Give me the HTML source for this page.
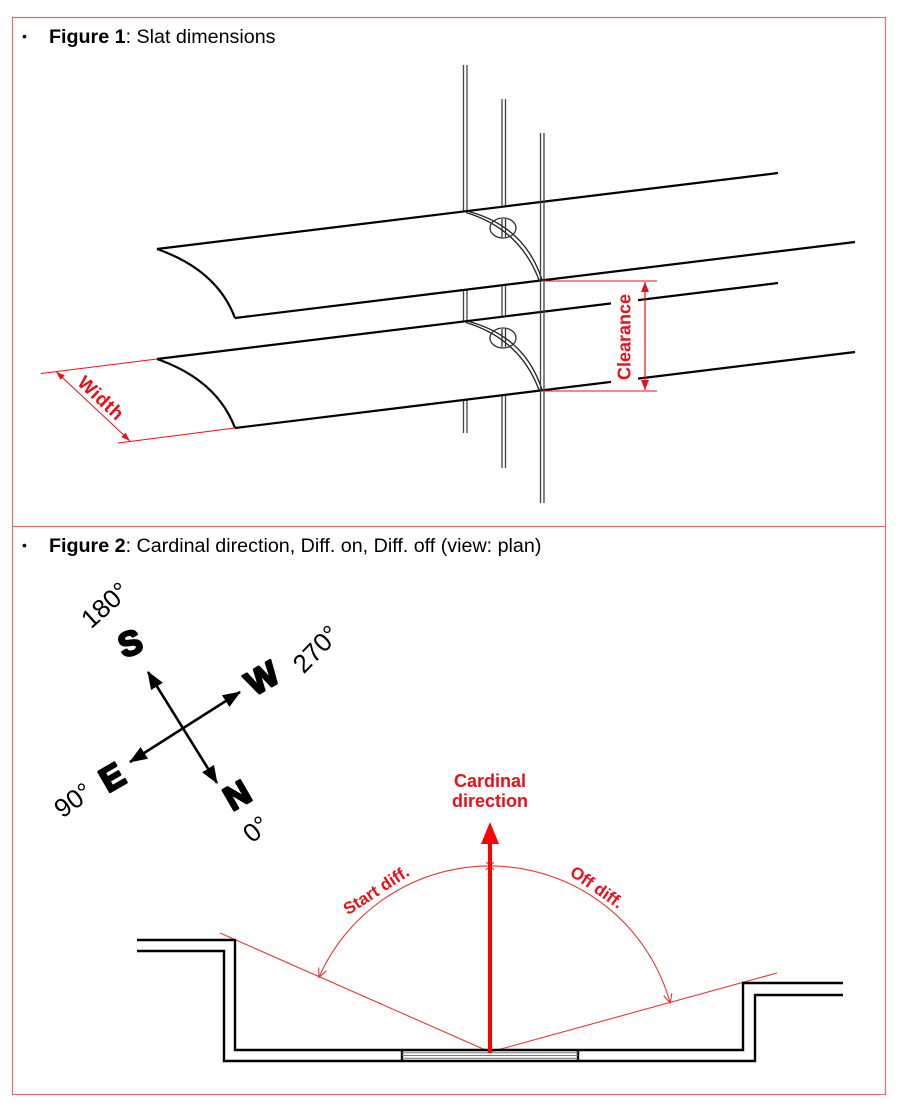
<!DOCTYPE html>
<html>
<head>
<meta charset="utf-8">
<style>
html,body{margin:0;padding:0;background:#fff;}
svg{display:block;}
</style>
</head>
<body>
<svg width="901" height="1114" viewBox="0 0 901 1114" xmlns="http://www.w3.org/2000/svg" font-family="'Liberation Sans', Arial, sans-serif">
<defs>
  <marker id="ah" markerWidth="18" markerHeight="14" refX="17" refY="7" orient="auto-start-reverse" markerUnits="userSpaceOnUse">
    <path d="M0,0 L18,7 L0,14 Z" fill="#000"/>
  </marker>
  <marker id="rw" markerWidth="9" markerHeight="6" refX="9" refY="3" orient="auto-start-reverse" markerUnits="userSpaceOnUse">
    <path d="M0,0 L9,3 L0,6 Z" fill="#e8101a"/>
  </marker>
  <marker id="rc" markerWidth="10" markerHeight="8" refX="10" refY="4" orient="auto-start-reverse" markerUnits="userSpaceOnUse">
    <path d="M0,0 L10,4 L0,8 Z" fill="#e8101a"/>
  </marker>
</defs>

<!-- frame -->
<rect x="12.5" y="17.5" width="873" height="1077" fill="#fff" stroke="#dc7070" stroke-width="1.2"/>
<line x1="12" y1="526.5" x2="886" y2="526.5" stroke="#dc7070" stroke-width="1.2"/>

<!-- headings -->
<text x="22" y="41" font-size="14">•</text>
<text x="49" y="43" font-size="19.7"><tspan font-weight="bold">Figure 1</tspan>: Slat dimensions</text>
<text x="22" y="550" font-size="14">•</text>
<text x="49" y="552" font-size="19.7"><tspan font-weight="bold">Figure 2</tspan>: Cardinal direction, Diff. on, Diff. off (view: plan)</text>

<!-- ===== Figure 1 ===== -->
<g stroke="#444" stroke-width="1.3">
  <line x1="463.5" y1="65" x2="463.5" y2="433"/>
  <line x1="467" y1="65" x2="467" y2="433"/>
  <line x1="502" y1="99" x2="502" y2="468"/>
  <line x1="505.5" y1="99" x2="505.5" y2="468"/>
</g>

<!-- slat 1 -->
<path d="M157,249 L778,173 L855,242 L235,318 Q217,270 157,249 Z" fill="#fff"/>
<g fill="none" stroke="#000" stroke-width="2.2">
  <path d="M157,249 L778,173"/>
  <path d="M235,318 L855,242"/>
  <path d="M157,249 Q217,270 235,318"/>
</g>
<g fill="none" stroke="#222" stroke-width="1.3">
  <path d="M467,211 Q525,226 542,280"/>
  <path d="M466,212.5 Q520,229 539,280"/>
</g>

<!-- slat 2 -->
<g transform="translate(0,110)">
  <path d="M157,249 L778,173 L855,242 L235,318 Q217,270 157,249 Z" fill="#fff"/>
  <g fill="none" stroke="#000" stroke-width="2.2">
    <path d="M157,249 L778,173"/>
    <path d="M235,318 L855,242"/>
    <path d="M157,249 Q217,270 235,318"/>
  </g>
  <g fill="none" stroke="#222" stroke-width="1.3">
    <path d="M467,211 Q525,226 542,280"/>
    <path d="M466,212.5 Q520,229 539,280"/>
  </g>
</g>

<!-- rod 3 -->
<g stroke="#444" stroke-width="1.3">
  <line x1="540.5" y1="133" x2="540.5" y2="503"/>
  <line x1="544" y1="133" x2="544" y2="503"/>
</g>

<!-- ellipses -->
<g stroke="#333" stroke-width="1.3" fill="none">
  <ellipse cx="503" cy="228" rx="13" ry="10"/>
  <line x1="502" y1="219" x2="502" y2="237"/>
  <line x1="505.5" y1="219" x2="505.5" y2="237"/>
  <ellipse cx="503" cy="338" rx="13" ry="10"/>
  <line x1="502" y1="329" x2="502" y2="347"/>
  <line x1="505.5" y1="329" x2="505.5" y2="347"/>
</g>

<!-- Clearance -->
<rect x="611" y="289" width="27" height="97" fill="#fff"/>
<g stroke="#e8101a" stroke-width="1">
  <line x1="542" y1="281" x2="657" y2="281"/>
  <line x1="542" y1="391" x2="657" y2="391"/>
</g>
<line x1="645" y1="282" x2="645" y2="390" stroke="#e8101a" stroke-width="1.2" marker-start="url(#rc)" marker-end="url(#rc)"/>
<text transform="translate(624,337) rotate(-90)" x="0" y="6.5" text-anchor="middle" font-size="18" font-weight="bold" fill="#e8101a">Clearance</text>

<!-- Width -->
<g stroke="#e8101a" stroke-width="1">
  <line x1="41" y1="373.5" x2="157" y2="359"/>
  <line x1="118" y1="443" x2="235" y2="428"/>
</g>
<line x1="56" y1="371.5" x2="130" y2="441" stroke="#e8101a" stroke-width="1" marker-start="url(#rw)" marker-end="url(#rw)"/>
<text transform="translate(101,398) rotate(43)" x="0" y="6.5" text-anchor="middle" font-size="19" font-weight="bold" fill="#e8101a" letter-spacing="0.5">Width</text>

<!-- ===== Figure 2 ===== -->
<line x1="148" y1="672" x2="217" y2="783" stroke="#000" stroke-width="2.6" marker-start="url(#ah)" marker-end="url(#ah)"/>
<line x1="130" y1="762" x2="240" y2="692" stroke="#000" stroke-width="2.6" marker-start="url(#ah)" marker-end="url(#ah)"/>

<g font-weight="bold" font-size="34" text-anchor="middle" fill="#000" stroke="#000" stroke-width="2.4" stroke-linejoin="round">
  <text transform="translate(130,643) rotate(-20)" x="0" y="12">S</text>
  <text transform="translate(262,678) rotate(-30)" x="0" y="12">W</text>
  <text transform="translate(112,777) rotate(-30)" x="0" y="12">E</text>
  <text transform="translate(237,795) rotate(-30)" x="0" y="12">N</text>
</g>
<g font-size="26" text-anchor="middle" fill="#000">
  <text transform="translate(105,605) rotate(-42)" x="0" y="9">180°</text>
  <text transform="translate(316,649) rotate(-46)" x="0" y="9">270°</text>
  <text transform="translate(73,800) rotate(-36)" x="0" y="9">90°</text>
  <text transform="translate(256,829) rotate(-40)" x="0" y="9">0°</text>
</g>

<!-- cardinal direction -->
<text x="490" y="787" text-anchor="middle" font-size="18" font-weight="bold" fill="#e8101a">Cardinal</text>
<text x="490" y="807" text-anchor="middle" font-size="18" font-weight="bold" fill="#e8101a">direction</text>

<g stroke="#e53935" stroke-width="1.1" fill="none">
  <line x1="220" y1="933" x2="490" y2="1052"/>
  <line x1="490" y1="1052" x2="777" y2="973"/>
  <path d="M318.9,977.4 A187,187 0 0,1 670.2,1003.1"/>
  <path d="M326.4,970.8 L318.9,977.4 L318.7,967.4"/>
  <path d="M671.9,993.2 L670.2,1003.1 L663.7,995.5"/>
  <line x1="486" y1="862" x2="494" y2="870"/>
  <line x1="494" y1="862" x2="486" y2="870"/>
</g>

<line x1="490" y1="1053" x2="490" y2="842" stroke="#f00" stroke-width="4"/>
<polygon points="490,822 481,844 499,844" fill="#f00"/>

<text transform="translate(376,890) rotate(-33)" x="0" y="6" text-anchor="middle" font-size="17" font-weight="bold" fill="#e8101a">Start diff.</text>
<text transform="translate(597,887) rotate(35)" x="0" y="6" text-anchor="middle" font-size="17" font-weight="bold" fill="#e8101a">Off diff.</text>

<!-- floor plan walls -->
<g fill="none" stroke="#000" stroke-width="2.4">
  <path d="M137,940 L235,940 L235,1050 L743,1050 L743,983 L843,983"/>
  <path d="M137,951 L224,951 L224,1061 L755,1061 L755,995 L843,995"/>
  <line x1="402" y1="1050" x2="402" y2="1061"/>
  <line x1="578" y1="1050" x2="578" y2="1061"/>
</g>
<g stroke="#777" stroke-width="1">
  <line x1="402" y1="1052.8" x2="578" y2="1052.8"/>
  <line x1="402" y1="1055.5" x2="578" y2="1055.5"/>
  <line x1="402" y1="1058.2" x2="578" y2="1058.2"/>
</g>
<line x1="490" y1="1053" x2="490" y2="1046" stroke="#f00" stroke-width="4"/>
</svg>
</body>
</html>
